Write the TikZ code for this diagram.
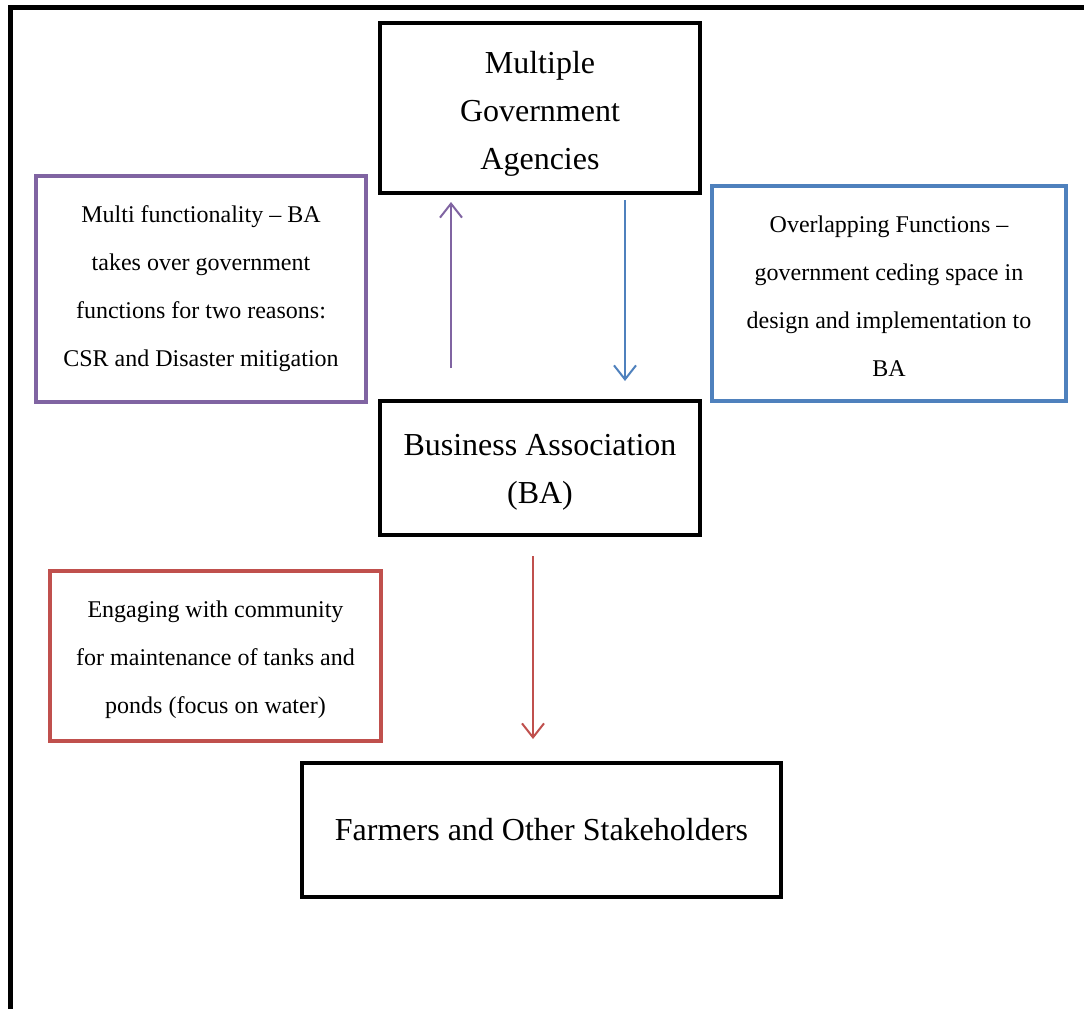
\documentclass[tikz,border=0pt]{standalone}
\usepackage{fontspec}
\setmainfont{Liberation Serif}
\usetikzlibrary{arrows.meta}
\definecolor{cpurple}{RGB}{128,100,162}
\definecolor{cblue}{RGB}{79,129,189}
\definecolor{cred}{RGB}{192,80,77}
\newcommand{\topstrut}[1]{\rule{0pt}{#1}}
\begin{document}
\begin{tikzpicture}[x=1pt,y=-1pt,
  mainbox/.style={draw=black,line width=4.5pt,align=center,inner sep=0pt,
    font=\fontsize{32}{48}\selectfont},
  notebox/.style={line width=3.5pt,align=center,inner sep=0pt,
    font=\fontsize{24}{48}\selectfont},
  conn/.style={line width=2pt,-{Straight Barb[length=14pt,width=22pt]}}]
\useasboundingbox (0,0) rectangle (1084,1009);
\fill[white] (0,0) rectangle (1084,1009);
\draw[line width=5pt] (1084,7) -- (10,7) -- (10,1009);

\node[mainbox,minimum width=320pt,minimum height=170pt] (mga) at (540,108)
  {\topstrut{34pt}Multiple\\Government\\Agencies};
\node[mainbox,minimum width=320pt,minimum height=134pt] (ba) at (540,468)
  {\topstrut{30pt}Business Association\\(BA)};
\node[mainbox,minimum width=479pt,minimum height=134pt] (farm) at (541.5,830)
  {Farmers and Other Stakeholders};

\node[notebox,draw=cpurple,minimum width=330pt,minimum height=226pt] (multi) at (201,289)
  {Multi functionality -- BA\\takes over government\\functions for two reasons:\\CSR and Disaster mitigation};
\node[notebox,draw=cblue,minimum width=354pt,minimum height=215pt] (overlap) at (889,293.5)
  {\topstrut{23pt}Overlapping Functions --\\government ceding space in\\design and implementation to\\BA};
\node[notebox,draw=cred,minimum width=331pt,minimum height=170pt] (engage) at (215.5,656)
  {\topstrut{25pt}Engaging with community\\for maintenance of tanks and\\ponds (focus on water)};

\coordinate (pa) at (451,368);
\coordinate (pb) at (451,202);
\coordinate (ba1) at (625,200);
\coordinate (ba2) at (625,381);
\coordinate (ra) at (533,556);
\coordinate (rb) at (533,739);
\draw[conn,cpurple] (pa) -- (pb);
\draw[conn,cblue] (ba1) -- (ba2);
\draw[conn,cred] (ra) -- (rb);
\end{tikzpicture}
\end{document}
